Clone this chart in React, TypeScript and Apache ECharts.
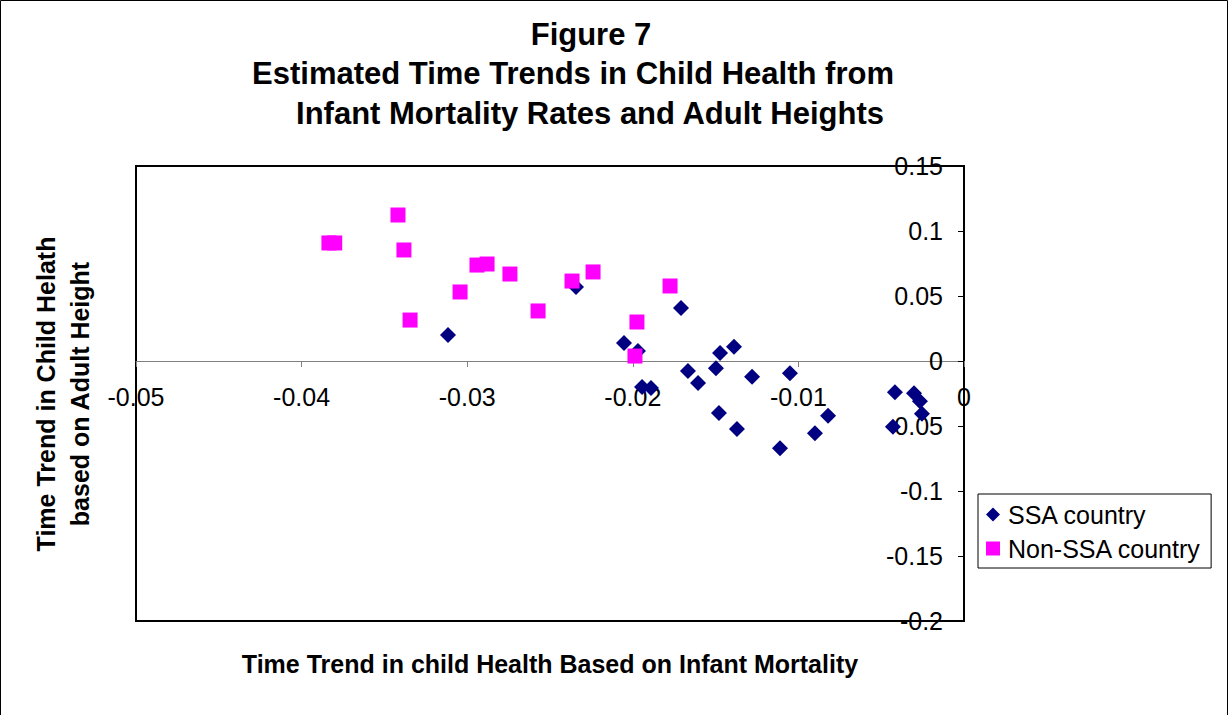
import React, { useEffect, useRef } from "react";
import * as echarts from "echarts";

const titleLines = [
  "Figure 7",
  "Estimated Time Trends in Child Health from",
  "Infant Mortality Rates and Adult Heights",
];
const xAxisTitle = "Time Trend in child Health Based on Infant Mortality";
const yAxisTitleLines = ["Time Trend in Child Helath", "based on Adult Height"];

const ssaX = [
  -0.03116, -0.02343, -0.01709, -0.02053, -0.01969, -0.01667, -0.01944, -0.0189,
  -0.01606, -0.01498, -0.01473, -0.01389, -0.0148, -0.01371, -0.0128, -0.01051,
  -0.01111, -0.009, -0.00821, -0.00417, -0.00429, -0.00302, -0.00266, -0.00254,
];
const ssaY = [
  0.02, 0.057, 0.0408, 0.0138, 0.0077, -0.0077, -0.02, -0.0208,
  -0.0169, -0.0056, 0.0062, 0.011, -0.04, -0.0523, -0.0122, -0.0094,
  -0.0671, -0.0556, -0.0422, -0.024, -0.0506, -0.0248, -0.0309, -0.0406,
];
const nonSsaX = [
  -0.03835, -0.038, -0.03418, -0.03382, -0.03345, -0.03043, -0.02941, -0.0288,
  -0.02742, -0.02572, -0.02367, -0.0224, -0.01775, -0.01975, -0.01987,
];
const nonSsaY = [
  0.0908, 0.0908, 0.1123, 0.0854, 0.0315, 0.0531, 0.0738, 0.0746,
  0.0669, 0.0385, 0.0615, 0.0685, 0.0577, 0.03, 0.0038,
];

const FONT = "'Liberation Sans', Arial, sans-serif";

export default function App() {
  const ref = useRef<HTMLDivElement>(null);
  useEffect(() => {
    document.body.style.margin = "0";
    const chart = echarts.init(ref.current!, null, { renderer: "svg" });
    const zip = (xs: number[], ys: number[]) => xs.map((x, i) => [x, ys[i]]);
    const titleCenters = [591, 573, 590];
    chart.setOption({
      animation: false,
      backgroundColor: "#fff",
      textStyle: { fontFamily: FONT },
      grid: {
        left: 136,
        right: 265,
        top: 166,
        bottom: 94,
        show: true,
        borderColor: "#000",
        borderWidth: 2,
        backgroundColor: "transparent",
      },
      xAxis: {
        type: "value",
        min: -0.05,
        max: 0,
        interval: 0.01,
        offset: -260,
        axisLine: { onZero: false, lineStyle: { color: "#808080", width: 1 } },
        axisTick: { show: true, length: 6, lineStyle: { color: "#808080" } },
        axisLabel: { color: "#000", fontSize: 25, margin: 23, fontFamily: FONT },
        splitLine: { show: false },
      },
      yAxis: {
        type: "value",
        position: "right",
        min: -0.2,
        max: 0.15,
        interval: 0.05,
        axisLine: { show: true, onZero: false, lineStyle: { color: "#000", width: 2 } },
        axisTick: { show: true, inside: true, length: 6, lineStyle: { color: "#000" } },
        axisLabel: { inside: true, color: "#000", fontSize: 25, margin: 21, fontFamily: FONT },
        splitLine: { show: false },
      },
      legend: {
        orient: "vertical",
        left: 978,
        top: 494,
        padding: [8, 10, 7, 8],
        itemGap: 9,
        itemWidth: 14,
        itemHeight: 14,
        itemStyle: { borderWidth: 0 },
        borderColor: "#000",
        borderWidth: 1,
        textStyle: { fontSize: 25, color: "#000", fontFamily: FONT, padding: [0, 0, 0, 3] },
        data: ["SSA country", "Non-SSA country"],
      },
      series: [
        {
          name: "SSA country",
          type: "scatter",
          symbol: "diamond",
          symbolSize: 16,
          itemStyle: { color: "#000080", opacity: 1 },
          data: zip(ssaX, ssaY),
        },
        {
          name: "Non-SSA country",
          type: "scatter",
          symbol: "rect",
          symbolSize: 15,
          itemStyle: { color: "#FF00FF", opacity: 1 },
          data: zip(nonSsaX, nonSsaY),
        },
      ],
      graphic: [
        {
          type: "rect",
          shape: { x: 0.5, y: 0.5, width: 1227, height: 730 },
          style: { fill: "none", stroke: "#000", lineWidth: 1 },
          silent: true,
        },
        ...titleLines.map((t, i) => ({
          type: "text",
          x: titleCenters[i],
          y: 34 + i * 39.5,
          style: {
            text: t,
            fontSize: 31,
            fontWeight: "bold",
            fontFamily: FONT,
            fill: "#000",
            textAlign: "center",
            textVerticalAlign: "middle",
          },
        })),
        {
          type: "text",
          x: 550,
          y: 664,
          style: {
            text: xAxisTitle,
            fontSize: 25,
            fontWeight: "bold",
            fontFamily: FONT,
            fill: "#000",
            textAlign: "center",
            textVerticalAlign: "middle",
          },
        },
        ...yAxisTitleLines.map((t, i) => ({
          type: "text",
          x: 46 + i * 34,
          y: 394,
          rotation: Math.PI / 2,
          style: {
            text: t,
            fontSize: 25,
            fontWeight: "bold",
            fontFamily: FONT,
            fill: "#000",
            textAlign: "center",
            textVerticalAlign: "middle",
          },
        })),
      ],
    });
    return () => chart.dispose();
  }, []);
  return (
    <div
      ref={ref}
      style={{ position: "fixed", left: 0, top: 0, width: 1229, height: 715 }}
    />
  );
}
